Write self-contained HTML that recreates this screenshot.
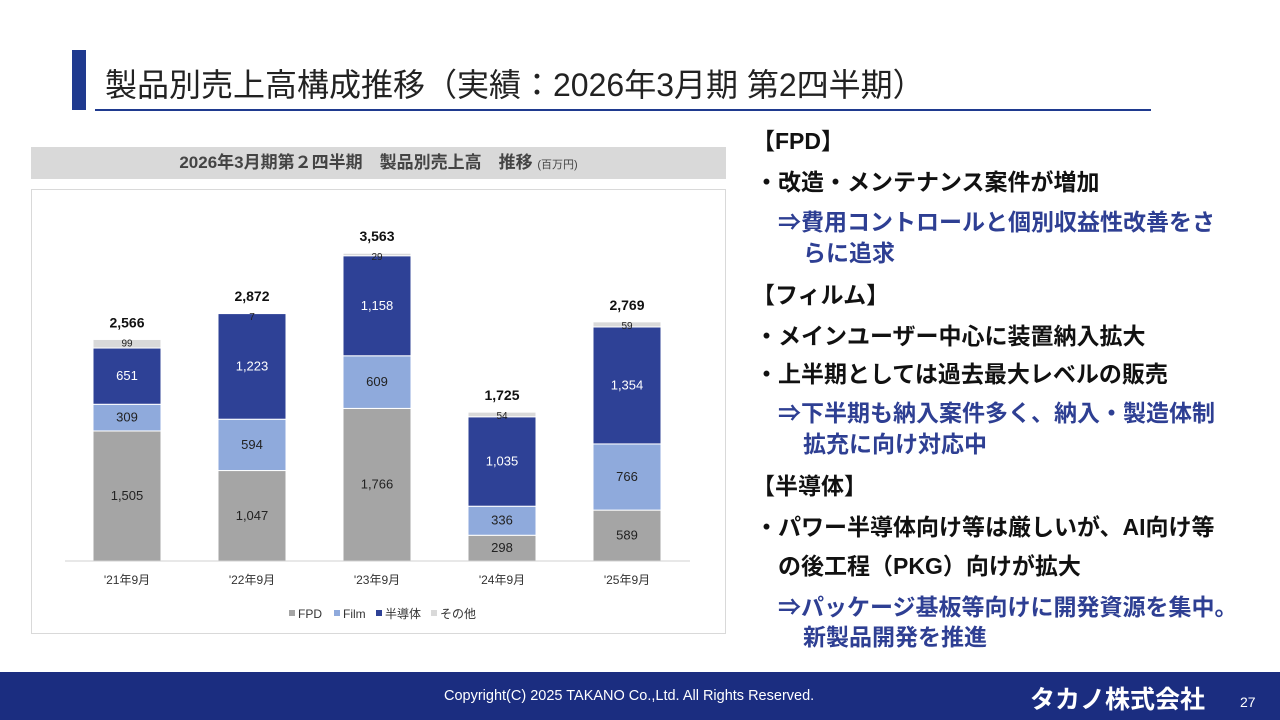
<!DOCTYPE html>
<html><head><meta charset="utf-8"><style>
body{margin:0;width:1280px;height:720px;position:relative;background:#fff;font-family:"Liberation Sans","Noto Sans CJK JP",sans-serif;overflow:hidden}
.t{position:absolute;white-space:nowrap;font-weight:bold;font-size:23px;line-height:30px;color:#111}
.b{color:#2e3f93}
</style></head><body>
<div style="position:absolute;left:72px;top:50px;width:14px;height:60px;background:#1f3a8f"></div>
<div style="position:absolute;left:105px;top:60px;font-size:32px;color:#222;white-space:nowrap">製品別売上高構成推移（実績：2026年3月期 第2四半期）</div>
<div style="position:absolute;left:95px;top:109px;width:1056px;height:2px;background:#1f3a8f"></div>

<div style="position:absolute;left:31px;top:147px;width:695px;height:32px;background:#d9d9d9;text-align:center;line-height:32px;font-size:17px;font-weight:bold;color:#444">2026年3月期第２四半期　製品別売上高　推移 <span style="font-size:11px;font-weight:normal">(百万円)</span></div>
<div style="position:absolute;left:31px;top:189px;width:693px;height:443px;border:1px solid #d9d9d9"></div>

<svg id="chart" width="1280" height="720" style="position:absolute;left:0;top:0"></svg>

<div class="t" style="left:752px;top:126px">【FPD】</div>
<div class="t" style="left:755px;top:167px">・改造・メンテナンス案件が増加</div>
<div class="t b" style="left:778px;top:207px">⇒費用コントロールと個別収益性改善をさ</div>
<div class="t b" style="left:803px;top:238px">らに追求</div>
<div class="t" style="left:752px;top:280px">【フィルム】</div>
<div class="t" style="left:755px;top:321px">・メインユーザー中心に装置納入拡大</div>
<div class="t" style="left:755px;top:359px">・上半期としては過去最大レベルの販売</div>
<div class="t b" style="left:778px;top:398px">⇒下半期も納入案件多く、納入・製造体制</div>
<div class="t b" style="left:803px;top:429px">拡充に向け対応中</div>
<div class="t" style="left:752px;top:471px">【半導体】</div>
<div class="t" style="left:755px;top:512px">・パワー半導体向け等は厳しいが、AI向け等</div>
<div class="t" style="left:778px;top:551px">の後工程（PKG）向けが拡大</div>
<div class="t b" style="left:778px;top:592px">⇒パッケージ基板等向けに開発資源を集中。</div>
<div class="t b" style="left:803px;top:622px">新製品開発を推進</div>

<div style="position:absolute;left:0;top:672px;width:1280px;height:48px;background:#1b2d80"></div>
<div style="position:absolute;left:444px;top:688px;font-size:14.5px;color:#fff;white-space:nowrap">Copyright(C) 2025 TAKANO Co.,Ltd. All Rights Reserved.</div>
<div style="position:absolute;left:1030px;top:680px;font-size:25px;font-weight:bold;color:#fff;white-space:nowrap">タカノ株式会社</div>
<div style="position:absolute;left:1240px;top:694px;font-size:14px;color:#fff">27</div>

<script>
const categories=["'21年9月","'22年9月","'23年9月","'24年9月","'25年9月"];
const fpd=[1505,1047,1766,298,589];
const film=[309,594,609,336,766];
const semi=[651,1223,1158,1035,1354];
const other=[99,7,29,54,59];
const totals=["2,566","2,872","3,563","1,725","2,769"];
const seriesNames=["FPD","Film","半導体","その他"];
const colors=["#a5a5a5","#8faadc","#2e4196","#d9d9d9"];
const NS="http://www.w3.org/2000/svg";
const svg=document.getElementById('chart');
const base=561,scale=0.0864,bw=68;
const xc=i=>127+i*125;
const y=v=>base-v*scale;
function mk(tag,a){const e=document.createElementNS(NS,tag);for(const k in a)e.setAttribute(k,a[k]);svg.appendChild(e);return e;}
const fmt=v=>v.toLocaleString('en-US');
const series=[fpd,film,semi,other];
const segNames=['fpd','film','semi','other'];
categories.forEach((c,i)=>{
  let acc=0;
  series.forEach((s,k)=>{
    const v=s[i];
    const r=mk('rect',{x:xc(i)-bw/2,y:y(acc+v),width:bw,height:v*scale,fill:colors[k],stroke:'#fff','stroke-width':1});
    
    
    const my=y(acc+v/2);
    const t=mk('text',{x:xc(i),y:k==3?y(acc+v)+7:my+4,'text-anchor':'middle','font-size':k==3?10:13,fill:k==2?'#fff':'#222'});
    t.textContent=fmt(v);
    
    
    acc+=v;
  });
  const tt=mk('text',{x:xc(i),y:y(acc)-12,'text-anchor':'middle','font-size':14,'font-weight':'bold',fill:'#111'});
  tt.textContent=totals[i];
  
  
  const cl=mk('text',{x:xc(i),y:584,'text-anchor':'middle','font-size':12,fill:'#333'});
  cl.textContent=c;
  
  
});
const ax=mk('line',{x1:65,x2:690,y1:base,y2:base,stroke:'#d0d0d0'});


const lx=[289,334,376,431];
seriesNames.forEach((n,k)=>{
  const r=mk('rect',{x:lx[k],y:610,width:6,height:6,fill:colors[k]});
  
  
  const t=mk('text',{x:lx[k]+9,y:618,'font-size':12,fill:'#333'});
  t.textContent=n;
  
  
});
</script>
</body></html>
